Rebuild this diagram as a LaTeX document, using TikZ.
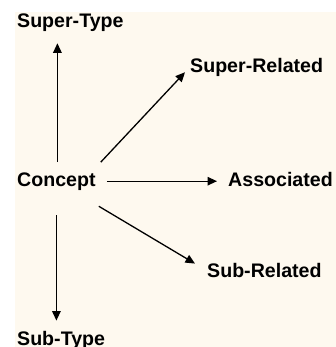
\documentclass[tikz,border=0pt]{standalone}
\usepackage{fontspec}
\setmainfont{Liberation Sans}
\usetikzlibrary{arrows.meta}
\definecolor{paper}{HTML}{FEF9EF}
\tikzset{
  lbl/.style={inner sep=0pt, anchor=base west, text=black,
    font=\fontsize{19.6}{22}\selectfont\bfseries},
  arr/.style={draw=black, line width=1.3pt, -{Triangle[length=9.5pt,width=8.5pt]}}
}
\begin{document}
\begin{tikzpicture}[x=1pt, y=-1pt]
  % page and paper background
  \useasboundingbox (0,0) rectangle (336,347);
  \fill[white] (0,0) rectangle (336,347);
  \fill[paper] (15,12) rectangle (336,347);

  % labels
  \node[lbl] (supertype)    at (17,28)  {Super-Type};
  \node[lbl] (superrelated) at (190,73) {Super-Related};
  \node[lbl] (concept)      at (17,186) {Concept};
  \node[lbl] (associated)   at (228,186) {Associated};
  \node[lbl] (subrelated)   at (207,277) {Sub-Related};
  \node[lbl] (subtype)      at (17,345) {Sub-Type};

  % relations from the central concept
  \draw[arr] ([shift={(1,-10)}]concept.north)
    -- ([shift={(1,11)}]concept.north |- supertype.south);
  \draw[arr] ([shift={(0,25)}]concept.south)
    -- ([shift={(0,-10)}]concept.south |- subtype.north);
  \draw[arr] ([shift={(11,0)}]concept.east)
    -- ([shift={(-11,0)}]associated.west |- concept.east);
  \draw[arr] ([shift={(5,-10)}]concept.north east)
    -- ([shift={(-5,-5)}]superrelated.south west);
  \draw[arr] ([shift={(3,16)}]concept.south east)
    -- ([shift={(-12,1)}]subrelated.north west);
\end{tikzpicture}
\end{document}
